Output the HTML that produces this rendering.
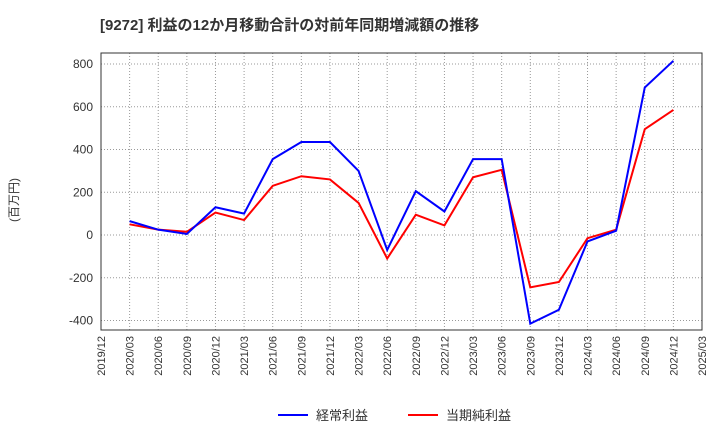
<!DOCTYPE html>
<html><head><meta charset="utf-8"><style>
body{margin:0;background:#fff;font-family:"Liberation Sans","Noto Sans CJK JP",sans-serif;}
</style></head><body>
<svg width="720" height="440" xmlns="http://www.w3.org/2000/svg">
<text x="100" y="30" font-size="15" font-weight="bold" fill="#333" font-family="Liberation Sans, Noto Sans CJK JP, sans-serif">[9272]  利益の12か月移動合計の対前年同期増減額の推移</text>
<text transform="translate(18,200) rotate(-90)" text-anchor="middle" font-size="12" fill="#333" font-family="Liberation Sans, Noto Sans CJK JP, sans-serif">(百万円)</text>
<g id="grid"></g><g id="axes"></g><g id="series"></g>
<rect x="101" y="53" width="601" height="277" fill="none" stroke="#333" stroke-width="1"/>
<g>
<line x1="278" y1="415" x2="308" y2="415" stroke="#0000ff" stroke-width="2"/>
<text x="316" y="420" font-size="13" fill="#333" font-family="Liberation Sans, Noto Sans CJK JP, sans-serif">経常利益</text>
<line x1="408" y1="415" x2="438" y2="415" stroke="#ff0000" stroke-width="2"/>
<text x="446" y="420" font-size="13" fill="#333" font-family="Liberation Sans, Noto Sans CJK JP, sans-serif">当期純利益</text>
</g>
</svg>
<script>
const categories=["2019/12","2020/03","2020/06","2020/09","2020/12","2021/03","2021/06","2021/09","2021/12","2022/03","2022/06","2022/09","2022/12","2023/03","2023/06","2023/09","2023/12","2024/03","2024/06","2024/09","2024/12","2025/03"];
const keijo=[null,65,25,5,130,100,355,435,435,300,-70,205,110,355,355,-415,-350,-30,20,690,815,null];
const junri=[null,50,25,15,105,70,230,275,260,150,-110,95,45,270,305,-245,-220,-15,25,495,585,null];
const yTicks=[-400,-200,0,200,400,600,800];
const NS="http://www.w3.org/2000/svg";
const X0=101,X1=702,Y0=53,Y1=330;
const xs=i=>X0+(X1-X0)*i/(categories.length-1);
const ys=v=>235-v*(171/800);
const grid=document.getElementById('grid'),axes=document.getElementById('axes'),ser=document.getElementById('series');
function mk(t,a,p){const e=document.createElementNS(NS,t);for(const k in a)e.setAttribute(k,a[k]);p.appendChild(e);return e;}
categories.forEach((c,i)=>{
  const x=xs(i);
  const l=mk('line',{x1:x,x2:x,y1:Y0,y2:Y1,stroke:'#999','stroke-dasharray':'1,2'},grid);
  
  
  const t=mk('text',{x:0,y:0,'font-size':11,fill:'#333','text-anchor':'end',transform:`translate(${x+4},${Y1+6}) rotate(-90)`},axes);
  t.textContent=c;
  
  
});
yTicks.forEach(v=>{
  const y=ys(v);
  const l=mk('line',{x1:X0,x2:X1,y1:y,y2:y,stroke:'#999','stroke-dasharray':'1,2'},grid);
  
  
  const t=mk('text',{x:X0-8,y:y+4,'font-size':12,fill:'#333','text-anchor':'end'},axes);
  t.textContent=v;
  
  
});
function line(d,col,name){
  const pts=[];d.forEach((v,i)=>{if(v!==null)pts.push(xs(i)+','+ys(v));});
  const p=mk('polyline',{points:pts.join(' '),fill:'none',stroke:col,'stroke-width':2},ser);
  
  
}
line(junri,'#ff0000','series-junri-line');
line(keijo,'#0000ff','series-keijo-line');
</script>
</body></html>
